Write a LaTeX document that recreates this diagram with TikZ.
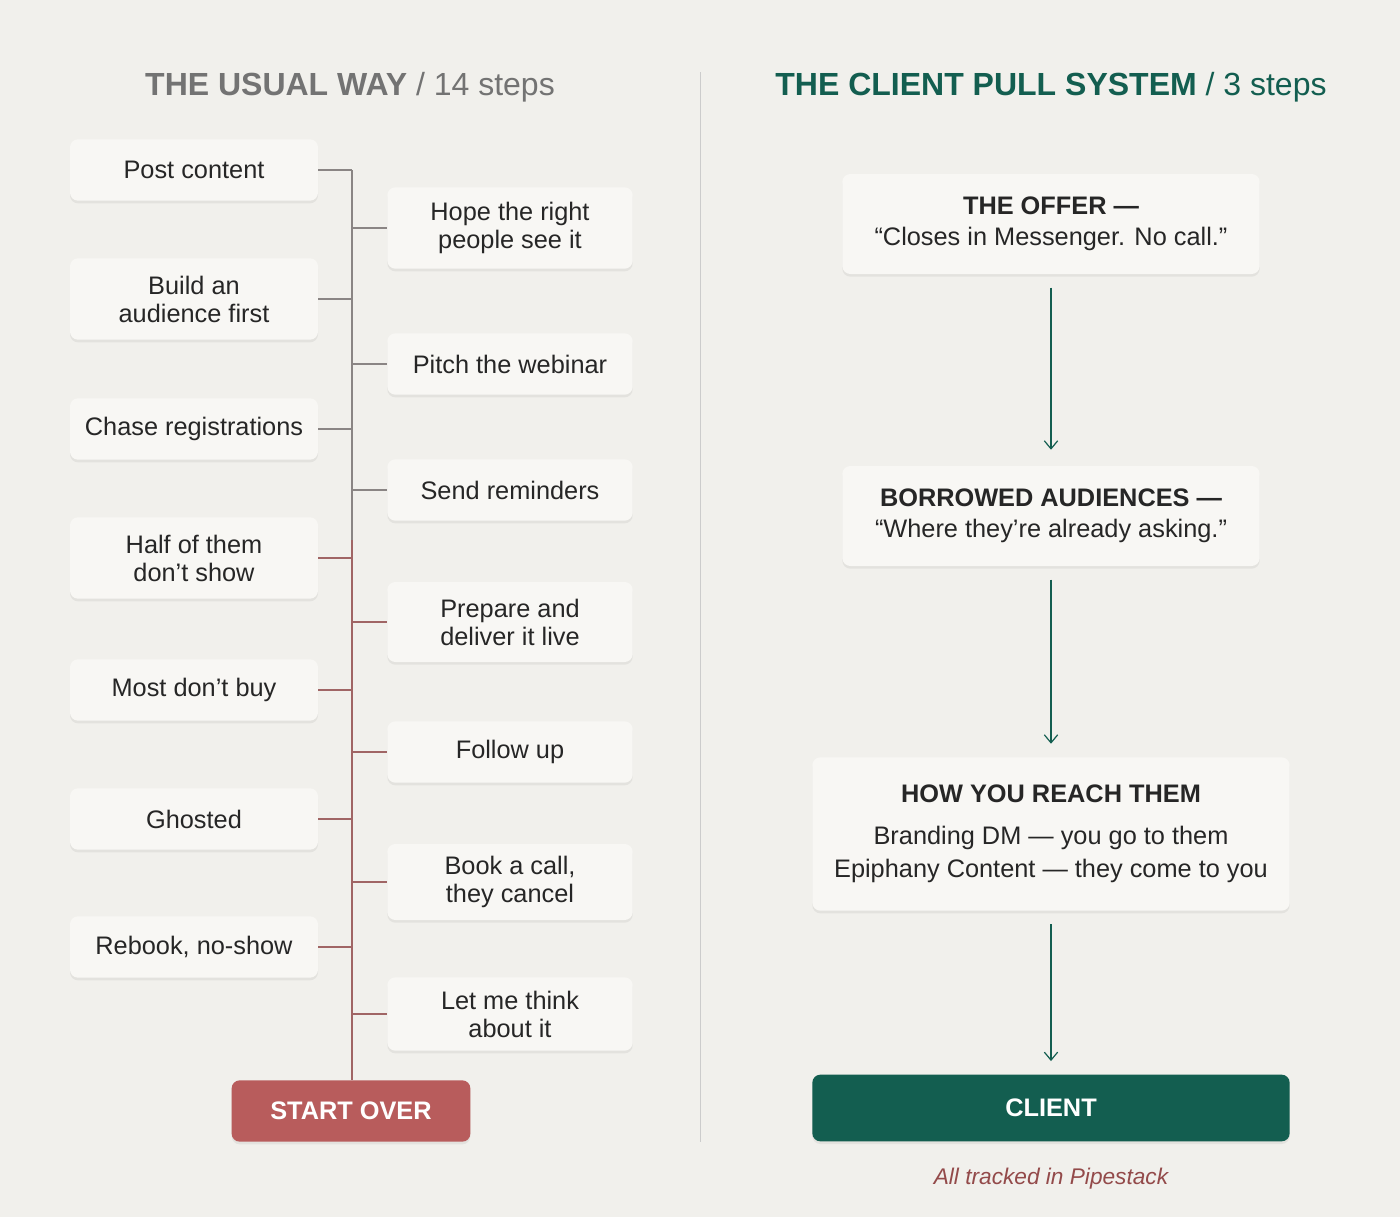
\documentclass[tikz,border=0pt]{standalone}
\usepackage{fontspec}
\setmainfont{Liberation Sans}
\usetikzlibrary{shadows,arrows.meta}
\definecolor{bgpaper}{HTML}{F1F0EC}
\definecolor{boxfill}{HTML}{F8F7F4}
\definecolor{pullgreen}{HTML}{135E50}
\definecolor{overred}{HTML}{B85C5C}
\definecolor{spinegray}{HTML}{8A8584}
\definecolor{spinered}{HTML}{A06565}
\tikzset{stepbox/.style={draw=none, fill=boxfill, rounded corners=6pt, align=center,
    font=\fontsize{19}{21}\selectfont, text=black!85,
    drop shadow={shadow xshift=0pt, shadow yshift=-2pt, opacity=0.12}},
  leftbox/.style={stepbox, minimum width=186pt},
  rightbox/.style={stepbox, minimum width=184pt},
  pullbox/.style={stepbox, minimum width=313pt, minimum height=75pt},
  flowarrow/.style={-{Straight Barb[length=6pt,width=10pt]}, pullgreen, line width=0.9pt}
}
\begin{document}
\begin{tikzpicture}[x=0.75pt, y=-0.75pt]
  \fill[bgpaper] (0,0) rectangle (1400,1217);
  \useasboundingbox (0,0) rectangle (1400,1217);

  % titles
  \node (titleL) at (350,87) {\fontsize{24}{26}\selectfont\color{black!55}\textbf{THE USUAL WAY} / 14 steps};
  \node (titleR) at (1051,87) {\fontsize{24}{26}\selectfont\color{pullgreen}\textbf{THE CLIENT PULL SYSTEM} / 3 steps};
  \draw[black!20, line width=0.7pt] (700,72) -- (700,1142);

  % spine
  \coordinate (top) at (352,170);
  \coordinate (mid) at (352,540);
  \coordinate (bot) at (352,1080);
  \draw[spinegray, line width=1.5pt] (top) -- (mid);
  \draw[spinered, line width=1.5pt] (mid) -- (bot);

  % left column
  \foreach \name/\y/\h/\txt in {l1/170/46/Post content, l2/299/61/{Build an\\audience first},
      l3/429/46/Chase registrations, l4/558/61/{Half of them\\don’t show}, l5/690/46/Most don’t buy,
      l6/819/46/Ghosted, l7/947/46/{Rebook, no-show}}{
    \node[leftbox, minimum height=\h pt] (\name) at (194,\y) {\txt};
    \ifnum\y<540 \def\sc{spinegray}\else \def\sc{spinered}\fi
    \draw[\sc, line width=1.5pt] (\name.east) -- (352,\y);
  }

  % right column
  \foreach \name/\y/\h/\txt in {r1/228/61/{Hope the right\\people see it}, r2/364/46/Pitch the webinar,
      r3/490/46/Send reminders, r4/622/60/{Prepare and\\deliver it live}, r5/752/46/Follow up,
      r6/882/57/{Book a call,\\they cancel}, r7/1014/55/{Let me think\\about it}}{
    \node[rightbox, minimum height=\h pt] (\name) at (510,\y) {\txt};
    \ifnum\y<540 \def\sc{spinegray}\else \def\sc{spinered}\fi
    \draw[\sc, line width=1.5pt] (352,\y) -- (\name.west);
  }

  \node[stepbox, fill=overred, text=white, minimum width=179pt, minimum height=46pt,
    font=\fontsize{19}{21}\selectfont\bfseries] (over) at (351,1111) {START OVER};

  % pull system
  \node[pullbox] (offer) at (1051,224) {\textbf{THE OFFER —}\\[2pt]“Closes in Messenger. No call.”};
  \node[pullbox] (borrow) at (1051,516) {\textbf{BORROWED AUDIENCES —}\\[2pt]“Where they're already asking.”};
  \node[stepbox, minimum width=358pt, minimum height=115pt] (reach) at (1051,834)
    {\textbf{HOW YOU REACH THEM}\\[10pt]Branding DM — you go to them\\[4pt]Epiphany Content — they come to you};
  \node[stepbox, fill=pullgreen, text=white, minimum width=358pt, minimum height=50pt,
    font=\fontsize{19}{21}\selectfont\bfseries] (client) at (1051,1108) {CLIENT};

  \draw[flowarrow] ([yshift=-10pt]offer.south) -- ([yshift=12pt]borrow.north);
  \draw[flowarrow] ([yshift=-10pt]borrow.south) -- ([yshift=10pt]reach.north);
  \draw[flowarrow] ([yshift=-10pt]reach.south) -- ([yshift=10pt]client.north);

  \node[text=overred!80!black, font=\fontsize{17}{19}\selectfont\itshape] (note) at (1051,1179) {All tracked in Pipestack};
\end{tikzpicture}
\end{document}
